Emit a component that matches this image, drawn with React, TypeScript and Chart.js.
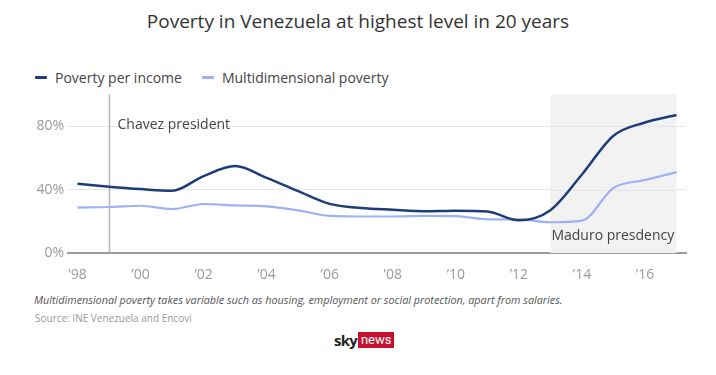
import React, { useEffect, useRef } from "react";
import { Chart, registerables } from "chart.js";

Chart.register(...registerables);

const years = [1998, 1999, 2000, 2001, 2002, 2003, 2004, 2005, 2006, 2007, 2008, 2009, 2010, 2011, 2012, 2013, 2014, 2015, 2016, 2017];
const povertyPerIncome = [43.6, 41.8, 40.3, 39.2, 48.5, 54.8, 47.4, 39.0, 31.0, 28.4, 27.3, 26.4, 26.7, 26.2, 20.6, 27.0, 49.5, 73.9, 82.3, 87.0];
const multidimensional = [28.6, 29.0, 29.8, 27.7, 30.9, 30.0, 29.4, 26.9, 23.4, 23.0, 23.0, 23.4, 23.3, 21.2, 21.2, 19.4, 20.4, 41.0, 46.0, 51.0];
const xTickYears = [1998, 2000, 2002, 2004, 2006, 2008, 2010, 2012, 2014, 2016];
const yTickValues = [0, 40, 80];
const chavezYear = 1999;
const maduroStart = 2013;
const maduroEnd = 2017;

const FONT = "'Open Sans', 'Noto Sans', sans-serif";
const DARK = "#1e3d78";
const LIGHT = "#9eb1f6";

export default function App() {
  const canvasRef = useRef<HTMLCanvasElement | null>(null);

  useEffect(() => {
    document.body.style.margin = "0";
    const canvas = canvasRef.current;
    if (!canvas) return;

    const annotations = {
      id: "annotations",
      beforeDatasetsDraw(chart: any) {
        const { ctx, scales } = chart;
        const x = scales.x;
        const y = scales.y;
        ctx.save();
        const x0 = x.getPixelForValue(maduroStart);
        const x1 = x.getPixelForValue(maduroEnd);
        ctx.fillStyle = "#f2f2f2";
        ctx.fillRect(x0, y.getPixelForValue(100), x1 - x0, y.getPixelForValue(0) - y.getPixelForValue(100));
        ctx.strokeStyle = "#e6e6e6";
        ctx.lineWidth = 1;
        [40, 80].forEach((v) => {
          const py = Math.round(y.getPixelForValue(v)) + 0.5;
          ctx.beginPath();
          ctx.moveTo(x0, py);
          ctx.lineTo(x1, py);
          ctx.stroke();
        });
        const cx = Math.round(x.getPixelForValue(chavezYear)) + 0.5;
        ctx.strokeStyle = "#b5b5b5";
        ctx.lineWidth = 1.5;
        ctx.beginPath();
        ctx.moveTo(cx, y.getPixelForValue(100));
        ctx.lineTo(cx, y.getPixelForValue(0));
        ctx.stroke();
        ctx.fillStyle = "#444";
        ctx.font = `14px ${FONT}`;
        ctx.textBaseline = "middle";
        ctx.textAlign = "left";
        ctx.fillText("Chavez president", cx + 8, y.getPixelForValue(80.5));
        ctx.fillText("Maduro presdency", x0 + 1, y.getPixelForValue(10.8));
        ctx.restore();
      },
    };

    const chart = new Chart(canvas, {
      type: "line",
      data: {
        datasets: [
          {
            label: "Poverty per income",
            data: years.map((yr, i) => ({ x: yr, y: povertyPerIncome[i] })),
            borderColor: DARK,
            borderWidth: 2.5,
            pointRadius: 0,
            cubicInterpolationMode: "monotone",
            order: 1,
          },
          {
            label: "Multidimensional poverty",
            data: years.map((yr, i) => ({ x: yr, y: multidimensional[i] })),
            borderColor: LIGHT,
            borderWidth: 2.2,
            pointRadius: 0,
            cubicInterpolationMode: "monotone",
            order: 2,
          },
        ],
      },
      options: {
        animation: false,
        responsive: false,
        layout: { padding: { top: 5, right: 30, left: 0, bottom: 0 } },
        plugins: { legend: { display: false }, tooltip: { enabled: false } },
        scales: {
          x: {
            type: "linear",
            min: 1997.7,
            max: 2017.3,
            afterBuildTicks: (scale: any) => {
              scale.ticks = xTickYears.map((v) => ({ value: v }));
            },
            ticks: {
              color: "#9a9a9a",
              font: { family: FONT, size: 14 },
              padding: 6,
              maxRotation: 0,
              autoSkip: false,
              callback: (v: any) => "\u2019" + String(v).slice(2),
            },
            grid: { display: false },
            border: { display: true, color: "#9a9a9a", width: 2 },
            afterFit: (scale: any) => {
              scale.height = 32;
            },
          },
          y: {
            min: 0,
            max: 100,
            afterBuildTicks: (scale: any) => {
              scale.ticks = yTickValues.map((v) => ({ value: v }));
            },
            ticks: {
              color: "#9a9a9a",
              font: { family: FONT, size: 14 },
              padding: 4,
              callback: (v: any) => v + "%",
            },
            grid: {
              color: (c: any) => (c.tick && c.tick.value === 0 ? "rgba(0,0,0,0)" : "#e6e6e6"),
              drawTicks: false,
              lineWidth: 1,
            },
            border: { display: false },
            afterFit: (scale: any) => {
              scale.width = 68;
            },
          },
        },
      },
      plugins: [annotations],
    });
    return () => chart.destroy();
  }, []);

  const swatch = (color: string): React.CSSProperties => ({
    display: "inline-block",
    width: 12,
    height: 3,
    background: color,
    verticalAlign: "middle",
    marginRight: 8,
    borderRadius: 1,
  });

  return (
    <div style={{ position: "fixed", left: 0, top: 0, width: 716, height: 375, background: "#fff", fontFamily: FONT, overflow: "hidden" }}>
      <div style={{ position: "absolute", top: 8, left: 0, width: 716, textAlign: "center", fontSize: 19, color: "#333", fontWeight: 500 }}>
        Poverty in Venezuela at highest level in 20 years
      </div>
      <div style={{ position: "absolute", top: 66, left: 35, fontSize: 14, color: "#444", whiteSpace: "nowrap" }}>
        <span style={swatch(DARK)} />
        <span style={{ verticalAlign: "middle", marginRight: 20 }}>Poverty per income</span>
        <span style={swatch(LIGHT)} />
        <span style={{ verticalAlign: "middle" }}>Multidimensional poverty</span>
      </div>
      <canvas ref={canvasRef} width={716} height={203} style={{ position: "absolute", left: 0, top: 82, width: 716, height: 203 }} />
      <div style={{ position: "absolute", top: 292, left: 34, fontSize: 10.8, fontStyle: "italic", color: "#555", whiteSpace: "nowrap" }}>
        Multidimensional poverty takes variable such as housing, employment or social protection, apart from salaries.
      </div>
      <div style={{ position: "absolute", top: 311, left: 35, fontSize: 10, color: "#999", whiteSpace: "nowrap" }}>
        Source: INE Venezuela and Encovi
      </div>
      <div style={{ position: "absolute", top: 332, left: 334, height: 16, display: "flex", alignItems: "center" }}>
        <span style={{ fontSize: 15, fontWeight: 700, color: "#222", letterSpacing: -0.8, marginRight: 1 }}>sky</span>
        <span style={{ background: "#c8102e", color: "#fff", fontSize: 13, lineHeight: "16px", padding: "0 3px", fontFamily: "'Liberation Sans Narrow', 'Roboto', sans-serif" }}>news</span>
      </div>
    </div>
  );
}
